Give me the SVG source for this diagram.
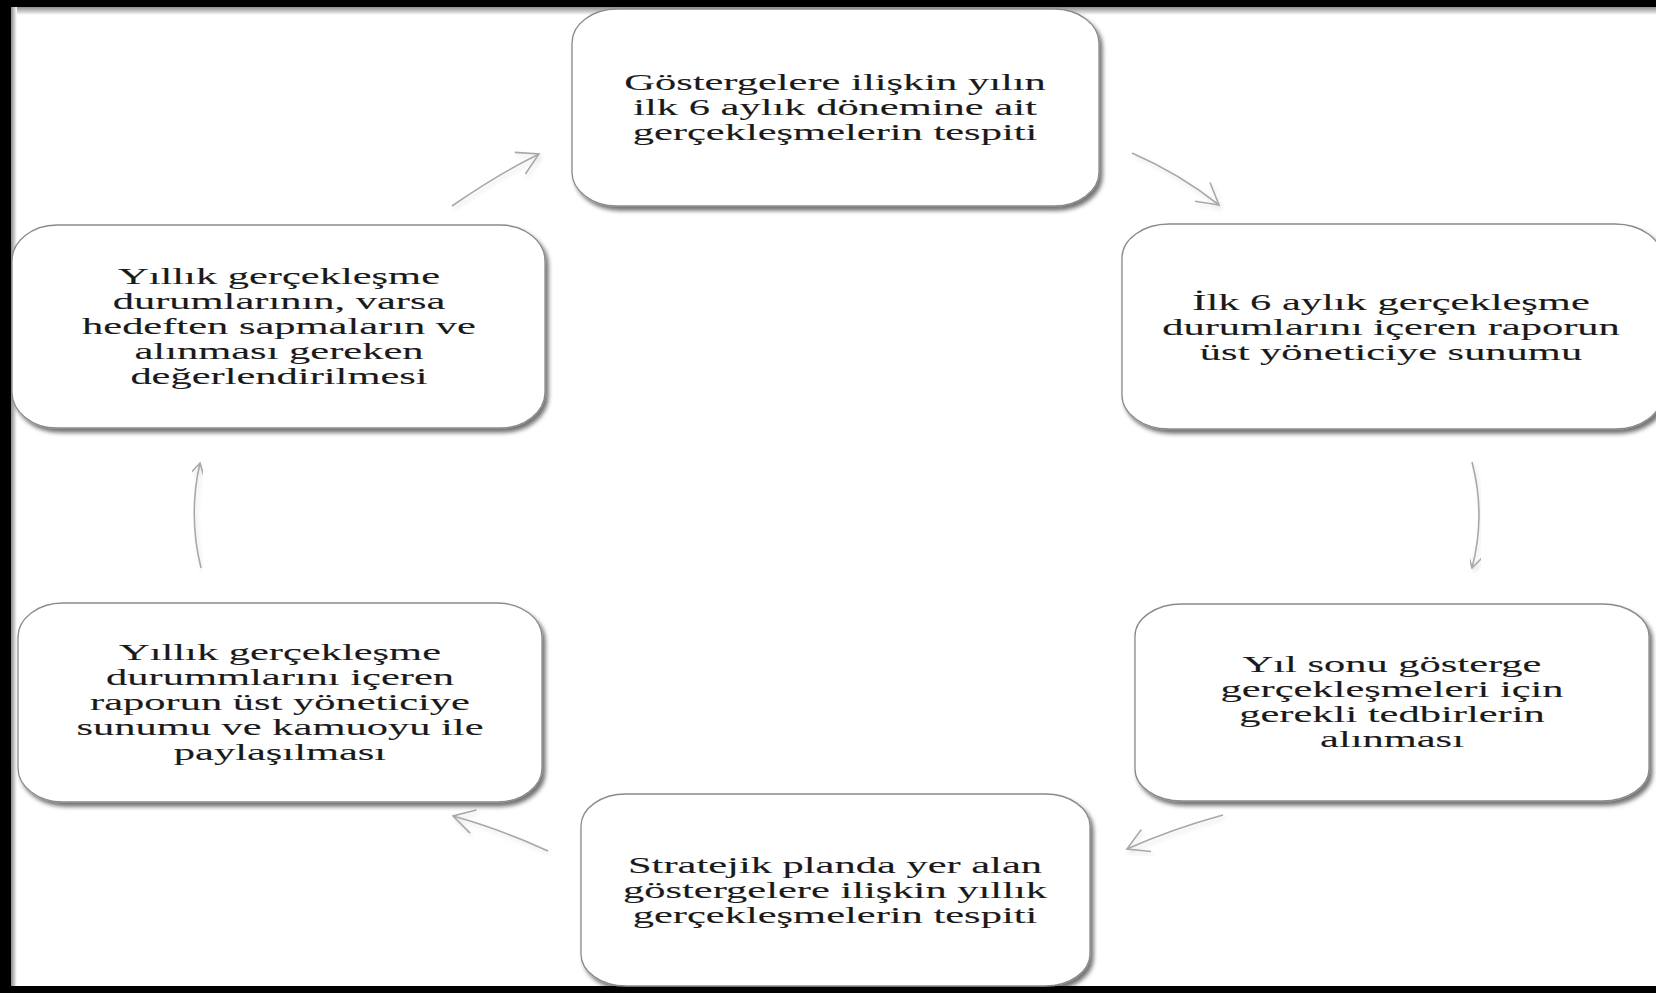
<svg xmlns="http://www.w3.org/2000/svg" width="1656" height="993" viewBox="0 0 1656 993">
<defs>
<style>
.box{fill:#ffffff;stroke:#8a8a8a;stroke-width:1.3;filter:url(#sh)}
.lbl{font-family:"Liberation Serif","Times New Roman",serif;font-size:24px;fill:#1a1a1a;stroke:#1a1a1a;stroke-width:0.1;text-anchor:middle}
.con{fill:none;stroke:#a8a8a8;stroke-width:1.6;marker-end:url(#ah);filter:url(#ash)}
</style>
<filter id="sh" x="-5%" y="-5%" width="112%" height="115%">
<feGaussianBlur in="SourceAlpha" stdDeviation="2"/>
<feOffset dx="3" dy="4" result="b"/>
<feFlood flood-color="#000" flood-opacity="0.55"/>
<feComposite in2="b" operator="in"/>
<feMerge><feMergeNode/><feMergeNode in="SourceGraphic"/></feMerge>
</filter>
<filter id="ash" x="-20%" y="-20%" width="140%" height="140%">
<feGaussianBlur in="SourceAlpha" stdDeviation="2"/>
<feOffset dx="2" dy="3" result="b"/>
<feFlood flood-color="#000" flood-opacity="0.12"/>
<feComposite in2="b" operator="in"/>
<feMerge><feMergeNode/><feMergeNode in="SourceGraphic"/></feMerge>
</filter>
<marker id="ah" viewBox="0 0 26 26" refX="24" refY="13" markerWidth="26" markerHeight="26" markerUnits="userSpaceOnUse" orient="auto">
<path d="M3,1 L24,13 L3,25" fill="none" stroke="#a8a8a8" stroke-width="1.6"/>
</marker>
<linearGradient id="gt" x1="0" y1="0" x2="0" y2="1"><stop offset="0" stop-color="#8c8c8c"/><stop offset="1" stop-color="#ffffff"/></linearGradient>
<linearGradient id="gl" x1="0" y1="0" x2="1" y2="0"><stop offset="0" stop-color="#8c8c8c"/><stop offset="1" stop-color="#ffffff"/></linearGradient>
</defs>
<rect x="0" y="0" width="1656" height="993" fill="#ffffff"/>
<g id="frame">
<rect x="0" y="7" width="1656" height="8" fill="url(#gt)"/>
<rect x="11" y="0" width="6" height="993" fill="url(#gl)"/>
<rect x="0" y="0" width="1656" height="7" fill="#000"/>
<rect x="0" y="0" width="11" height="993" fill="#000"/>
<rect x="0" y="986" width="1656" height="7" fill="#000"/>
</g>
<g id="connectors">
<path class="con" d="M452,206 Q498,174 539,154"/>
<path class="con" d="M1132,153 Q1180,174 1219,205"/>
<path class="con" d="M1472,462 Q1486,515 1472,568"/>
<path class="con" d="M1223,815 Q1172,829 1127,849"/>
<path class="con" d="M548,851 Q500,829 453,816"/>
<path class="con" d="M201,568 Q188,515 200,463"/>
</g>
<g id="n1">
<rect class="box" x="572" y="9" width="527" height="197" rx="45" ry="34"/>
<text class="lbl" transform="matrix(1.77,0,0,1,835,0)"><tspan x="0" y="90">Göstergelere ilişkin yılın</tspan><tspan x="0" y="115">ilk 6 aylık dönemine ait</tspan><tspan x="0" y="140">gerçekleşmelerin tespiti</tspan></text>
</g>
<g id="n2">
<rect class="box" x="1122" y="224" width="540" height="205" rx="47" ry="34"/>
<text class="lbl" transform="matrix(1.77,0,0,1,1391,0)"><tspan x="0" y="310">İlk 6 aylık gerçekleşme</tspan><tspan x="0" y="335">durumlarını içeren raporun</tspan><tspan x="0" y="360">üst yöneticiye sunumu</tspan></text>
</g>
<g id="n3">
<rect class="box" x="1135" y="604" width="514" height="197" rx="47" ry="32"/>
<text class="lbl" transform="matrix(1.77,0,0,1,1392,0)"><tspan x="0" y="672">Yıl sonu gösterge</tspan><tspan x="0" y="697">gerçekleşmeleri için</tspan><tspan x="0" y="722">gerekli tedbirlerin</tspan><tspan x="0" y="747">alınması</tspan></text>
</g>
<g id="n4">
<rect class="box" x="581" y="794" width="509" height="192" rx="45" ry="32"/>
<text class="lbl" transform="matrix(1.77,0,0,1,835,0)"><tspan x="0" y="873">Stratejik planda yer alan</tspan><tspan x="0" y="898">göstergelere ilişkin yıllık</tspan><tspan x="0" y="923">gerçekleşmelerin tespiti</tspan></text>
</g>
<g id="n5">
<rect class="box" x="18" y="603" width="524" height="199" rx="45" ry="34"/>
<text class="lbl" transform="matrix(1.77,0,0,1,280,0)"><tspan x="0" y="660">Yıllık gerçekleşme</tspan><tspan x="0" y="685">durummlarını içeren</tspan><tspan x="0" y="710">raporun üst yöneticiye</tspan><tspan x="0" y="735">sunumu ve kamuoyu ile</tspan><tspan x="0" y="760">paylaşılması</tspan></text>
</g>
<g id="n6">
<rect class="box" x="12" y="225" width="533" height="203" rx="45" ry="36"/>
<text class="lbl" transform="matrix(1.77,0,0,1,279,0)"><tspan x="0" y="284">Yıllık gerçekleşme</tspan><tspan x="0" y="309">durumlarının, varsa</tspan><tspan x="0" y="334">hedeften sapmaların ve</tspan><tspan x="0" y="359">alınması gereken</tspan><tspan x="0" y="384">değerlendirilmesi</tspan></text>
</g>
</svg>
